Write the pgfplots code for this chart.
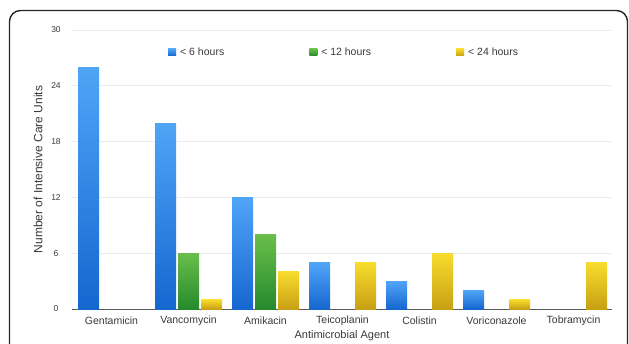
\documentclass[border=0pt]{standalone}
\usepackage{pgfplots}
\pgfplotsset{compat=1.18}
\usepackage{fontspec}
\setmainfont{Liberation Sans}
\definecolor{txt}{HTML}{3A3A3A}
\definecolor{blueT}{RGB}{80,165,247}
\definecolor{blueB}{RGB}{22,102,208}
\definecolor{greenT}{RGB}{105,190,75}
\definecolor{greenB}{RGB}{38,138,45}
\definecolor{yellowT}{RGB}{248,220,45}
\definecolor{yellowB}{RGB}{200,160,20}
\pgfplotsset{
  sB/.style={draw=none, top color=blueT, bottom color=blueB, bar shift=-23pt},
  sG/.style={draw=none, top color=greenT, bottom color=greenB, bar shift=0pt},
  sY/.style={draw=none, top color=yellowT, bottom color=yellowB, bar shift=23pt},
}
\begin{document}
\begin{tikzpicture}[x=1pt,y=1pt]
\path[use as bounding box, fill=white] (0,0) rectangle (629,343);
\clip (0,0) rectangle (629,343);
\draw[line width=1.4pt, rounded corners=11pt, black!85] (9.5,-30) -- (9.5,332.5) -- (627.5,332.5) -- (627.5,-30);
\begin{axis}[
  scale only axis, width=540pt, height=279pt,
  at={(72pt,34pt)}, anchor=south west,
  ybar, bar width=21pt,
  xmin=-0.513, xmax=6.5, ymin=0, ymax=30,
  xtick={0,...,6},
  xticklabels={Gentamicin,Vancomycin,Amikacin,Teicoplanin,Colistin,Voriconazole,Tobramycin},
  ytick={0,6,12,18,24,30},
  /pgf/number format/assume math mode=true,
  axis lines*=left,
  y axis line style={draw=none},
  x axis line style={draw=black!65, line width=0.8pt, -},
  major tick length=0pt,
  ymajorgrids, grid style={draw=black!8, line width=0.8pt},
  tick label style={text=txt},
  xticklabel style={font=\fontsize{10.5}{12}\selectfont, anchor=center, yshift=-12pt},
  yticklabel style={font=\fontsize{8.5}{10}\selectfont, anchor=center, xshift=-16pt},
  xlabel={Antimicrobial Agent}, ylabel={Number of Intensive Care Units},
  every axis x label/.style={at={(axis description cs:0.5,-0.097)}, anchor=center, font=\fontsize{11}{13}\selectfont, text=txt},
  every axis y label/.style={at={(axis description cs:-0.063,0.5)}, rotate=90, anchor=center, font=\fontsize{12}{14}\selectfont, text=txt},
  legend columns=3,
  legend style={draw=none, fill=none, at={(axis cs:-0.513,27.6)}, xshift=93pt, anchor=west,
    font=\fontsize{10.5}{12}\selectfont, text=txt,
    /tikz/every odd column/.append style={column sep=2pt},
    /tikz/every even column/.append style={column sep=83pt}},
  legend cell align=left,
  legend image code/.code={\path[#1, draw=none] (0pt,-3.5pt) rectangle (8pt,3.5pt);},
]
% first bar of each series carries the legend entry
\addplot[sB] coordinates {(0,26)};
\addplot[sG] coordinates {(1,6)};
\addplot[sY] coordinates {(1,1)};
\legend{< 6 hours, < 12 hours, < 24 hours}
% < 6 hours
\addplot[sB, forget plot] coordinates {(1,20)};
\addplot[sB, forget plot] coordinates {(2,12)};
\addplot[sB, forget plot] coordinates {(3,5)};
\addplot[sB, forget plot] coordinates {(4,3)};
\addplot[sB, forget plot] coordinates {(5,2)};
% < 12 hours
\addplot[sG, forget plot] coordinates {(2,8)};
% < 24 hours
\addplot[sY, forget plot] coordinates {(2,4)};
\addplot[sY, forget plot] coordinates {(3,5)};
\addplot[sY, forget plot] coordinates {(4,6)};
\addplot[sY, forget plot] coordinates {(5,1)};
\addplot[sY, forget plot] coordinates {(6,5)};
\end{axis}
\end{tikzpicture}
\end{document}
